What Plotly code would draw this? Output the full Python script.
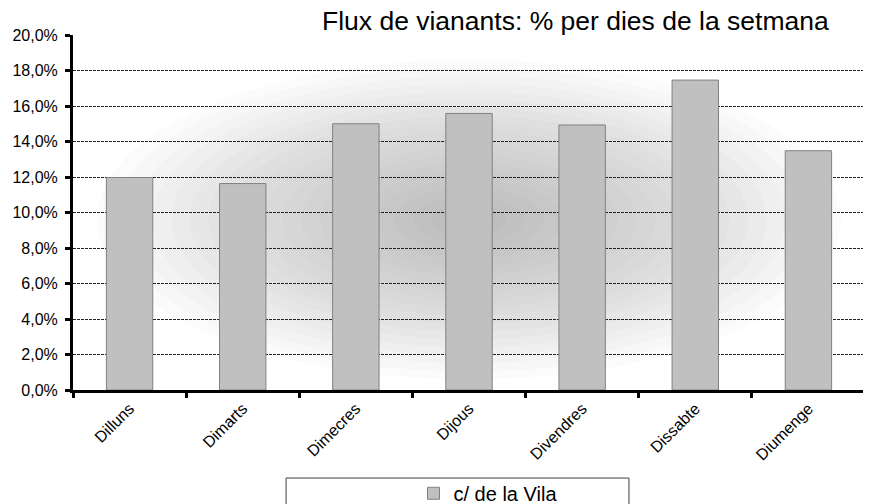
import plotly.graph_objects as go

days = ["Dilluns", "Dimarts", "Dimecres", "Dijous", "Divendres", "Dissabte", "Diumenge"]
values = [11.97, 11.63, 15.0, 15.58, 14.93, 17.46, 13.48]
series_name = "c/ de la Vila"
y_ticks = [0, 2, 4, 6, 8, 10, 12, 14, 16, 18, 20]
y_ticktext = [("%.1f%%" % v).replace(".", ",") for v in y_ticks]

fig = go.Figure()
fig.add_trace(go.Bar(
    x=days, y=values, name=series_name,
    marker=dict(color="#c0c0c0", line=dict(color="#808080", width=1)),
    width=0.41,
))

shapes = []
n = 20
for i in range(n):
    f = i / n
    shapes.append(dict(
        type="circle", xref="x domain", yref="y domain", layer="below",
        x0=0.5 - 0.47 * (1 - f), x1=0.5 + 0.47 * (1 - f),
        y0=0.48 - 0.45 * (1 - f), y1=0.48 + 0.45 * (1 - f),
        fillcolor="rgba(120,120,120,0.031)", line=dict(width=0),
    ))
shapes.append(dict(type="rect", xref="paper", yref="paper",
                   x0=0.269, x1=0.702, y0=-0.36, y1=-0.248,
                   line=dict(color="#404040", width=1), fillcolor="white", layer="above"))

# the page body adds an 8px offset, so the figure is 8px smaller
fig.update_layout(
    width=863, height=496,
    margin=dict(l=65, r=6, t=27, b=114, autoexpand=False),
    paper_bgcolor="white", plot_bgcolor="white",
    font=dict(family="Liberation Sans, Arial, sans-serif", color="black", size=16),
    bargap=0.59,
    shapes=shapes,
    title=dict(text="Flux de vianants: % per dies de la setmana",
               x=0.951, xanchor="right", y=1.0, yanchor="top", pad=dict(t=3),
               font=dict(size=26.5, color="black")),
    showlegend=True,
    legend=dict(orientation="h", x=0.524, xanchor="center", y=-0.236, yanchor="top",
                font=dict(size=20), bgcolor="rgba(0,0,0,0)"),
    xaxis=dict(
        showline=True, linecolor="black", linewidth=3, automargin=False,
        ticks="outside", tickson="boundaries", ticklen=5, tickwidth=3, tickcolor="black",
        tickangle=-45, tickfont=dict(size=16), showgrid=False,
    ),
    yaxis=dict(
        range=[0, 20], tickvals=y_ticks, ticktext=y_ticktext, automargin=False,
        showline=True, linecolor="black", linewidth=3,
        ticks="outside", ticklen=5, tickwidth=3, tickcolor="black",
        tickfont=dict(size=16), ticklabelstandoff=4,
        showgrid=True, gridcolor="#222222", gridwidth=1, griddash="3px,1px",
        zeroline=False,
    ),
)

fig.write_html("out.html")
